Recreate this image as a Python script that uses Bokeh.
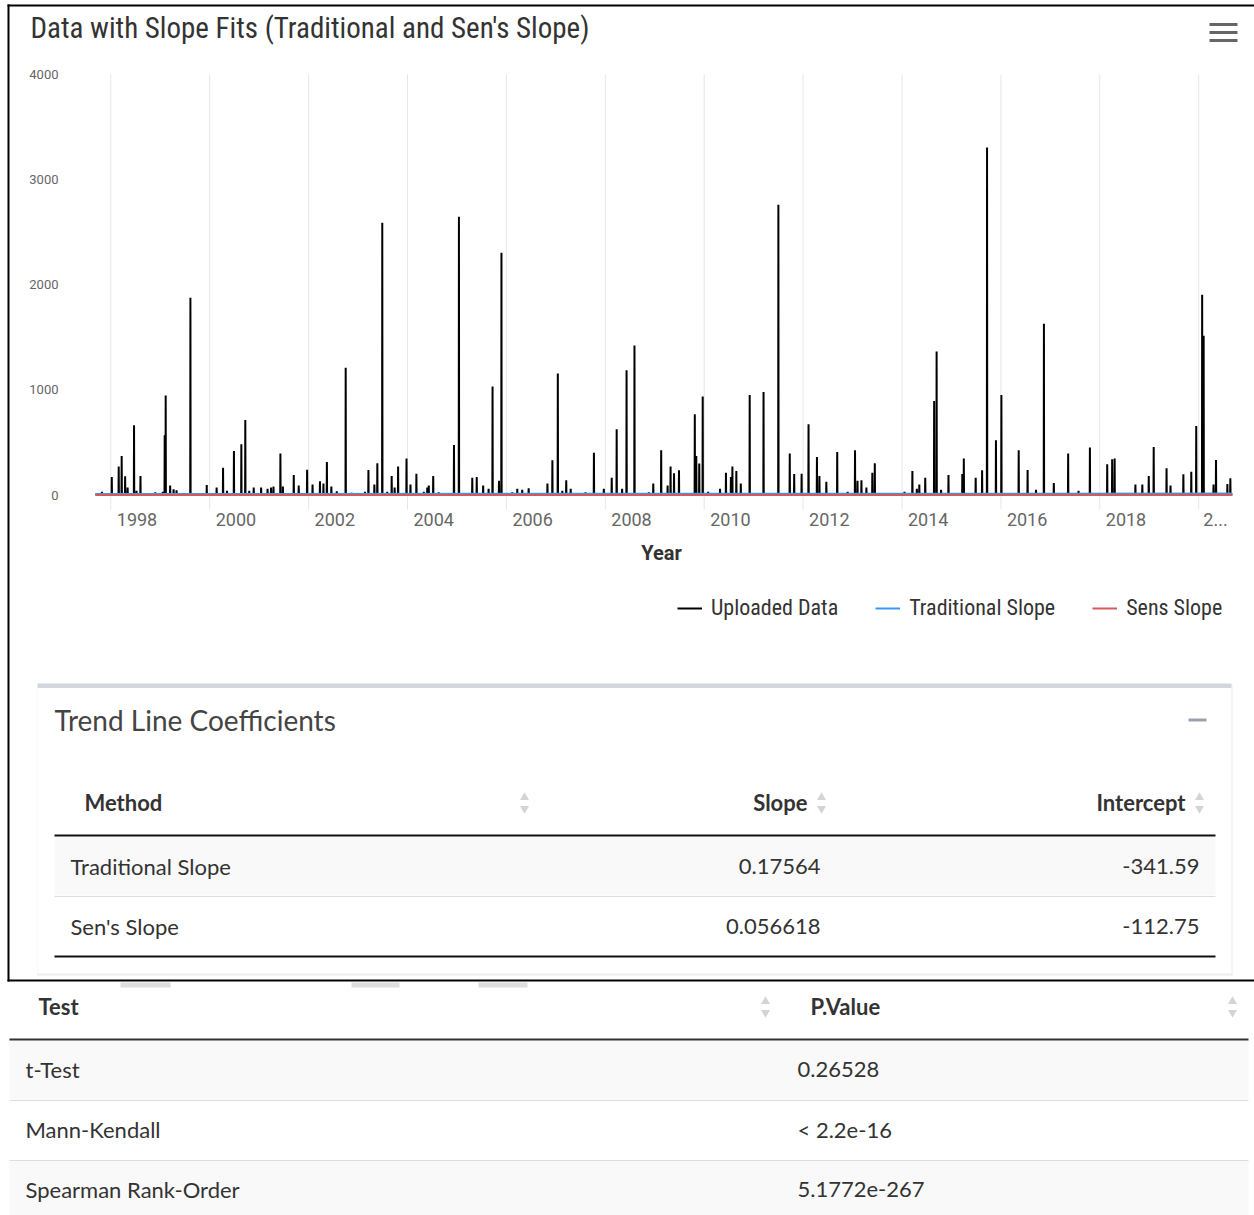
from bokeh.plotting import figure
from bokeh.models import (Range1d, FixedTicker, LinearAxis, Legend, LegendItem)
from bokeh.core.properties import value
from bokeh.embed import file_html
from bokeh.resources import INLINE

# ---------------------------------------------------------------------------
# Uploaded daily record: flow events (decimal year, value); between events the
# record sits at its base flow.
# ---------------------------------------------------------------------------
event_year = [
    1997.82, 1998.02, 1998.16, 1998.22, 1998.29, 1998.34, 1998.47, 1998.52, 1998.60, 1998.90,
    1999.05, 1999.09, 1999.11, 1999.20, 1999.27, 1999.33, 1999.61, 1999.94, 2000.14, 2000.27,
    2000.35, 2000.49, 2000.64, 2000.72, 2000.80, 2000.89, 2001.04, 2001.17, 2001.24, 2001.29,
    2001.43, 2001.48, 2001.70, 2001.80, 2001.97, 2002.08, 2002.23, 2002.30, 2002.37, 2002.46,
    2002.57, 2002.75, 2002.87, 2003.14, 2003.21, 2003.33, 2003.39, 2003.49, 2003.59, 2003.68,
    2003.74, 2003.81, 2003.98, 2004.06, 2004.18, 2004.33, 2004.40, 2004.43, 2004.52, 2004.63,
    2004.94, 2005.04, 2005.31, 2005.40, 2005.53, 2005.64, 2005.72, 2005.85, 2005.90, 2006.12,
    2006.22, 2006.32, 2006.45, 2006.83, 2006.93, 2007.04, 2007.13, 2007.21, 2007.30, 2007.60,
    2007.77, 2007.97, 2008.13, 2008.23, 2008.34, 2008.43, 2008.59, 2008.88, 2008.97, 2009.13,
    2009.26, 2009.32, 2009.39, 2009.49, 2009.81, 2009.84, 2009.90, 2009.97, 2010.08, 2010.32,
    2010.44, 2010.54, 2010.57, 2010.65, 2010.74, 2010.92, 2011.20, 2011.50, 2011.73, 2011.82,
    2011.97, 2012.11, 2012.28, 2012.33, 2012.47, 2012.69, 2012.90, 2013.05, 2013.10, 2013.18,
    2013.28, 2013.40, 2013.45, 2014.05, 2014.21, 2014.30, 2014.35, 2014.47, 2014.65, 2014.70,
    2014.79, 2014.94, 2015.22, 2015.25, 2015.49, 2015.62, 2015.72, 2015.90, 2016.01, 2016.36,
    2016.54, 2016.71, 2016.87, 2017.07, 2017.36, 2017.57, 2017.80, 2018.15, 2018.25, 2018.30,
    2018.72, 2018.86, 2018.99, 2019.09, 2019.35, 2019.43, 2019.69, 2019.85, 2019.95, 2020.07,
    2020.10, 2020.30, 2020.35, 2020.58, 2020.64,
]
event_flow = [
    30, 171, 270, 371, 178, 70, 664, 40, 181, 25,
    30, 568, 946, 90, 55, 45, 1876, 95, 70, 260,
    40, 419, 483, 714, 40, 70, 70, 60, 70, 80,
    394, 80, 190, 90, 241, 100, 130, 110, 314, 80,
    35, 1210, 20, 30, 238, 100, 302, 2590, 30, 181,
    70, 270, 346, 100, 203, 30, 70, 90, 181, 25,
    476, 2648, 165, 170, 90, 60, 1031, 135, 2305, 25,
    60, 50, 65, 110, 330, 1156, 40, 140, 60, 25,
    403, 60, 165, 625, 60, 1187, 1422, 25, 110, 425,
    90, 270, 206, 235, 768, 371, 300, 936, 30, 60,
    212, 170, 270, 228, 110, 952, 981, 2762, 394, 200,
    203, 673, 362, 180, 127, 410, 30, 425, 135, 140,
    70, 212, 302, 30, 228, 60, 100, 165, 895, 1365,
    50, 190, 200, 346, 165, 235, 3305, 521, 952, 425,
    238, 50, 1628, 115, 394, 40, 451, 292, 340, 346,
    100, 100, 180, 457, 254, 90, 197, 222, 657, 1905,
    1514, 100, 333, 105, 159,
]
record_start = 1997.69
record_end = 2020.68
base_flow = 5.0

# Trend line coefficients (value = slope * year + intercept)
methods = ["Traditional Slope", "Sen's Slope"]
slopes = [0.17564, 0.056618]
intercepts = [-341.59, -112.75]
slope_text = ["0.17564", "0.056618"]
intercept_text = ["-341.59", "-112.75"]

# Significance tests
tests = ["t-Test", "Mann-Kendall", "Spearman Rank-Order"]
p_values = ["0.26528", "< 2.2e-16", "5.1772e-267"]

year_grid = [1998, 2000, 2002, 2004, 2006, 2008, 2010, 2012, 2014, 2016, 2018, 2020]
year_labels = ["1998", "2000", "2002", "2004", "2006", "2008", "2010", "2012",
               "2014", "2016", "2018", "2..."]
flow_ticks = [0, 1000, 2000, 3000, 4000]

# ---------------------------------------------------------------------------
# Page: one canvas in page pixels (y downward); the chart uses its own year /
# flow scales mapped onto the chart area.
# ---------------------------------------------------------------------------
PAGE_W, PAGE_H = 1254, 1215
FL, FR, FT, FB = 80, 1242, 74, 495            # chart area edges on the page
PX_PER_YEAR = 49.45
YEAR_AT_0 = 1998 - 110.3 / PX_PER_YEAR
PX_PER_UNIT = 0.10512
ZERO_PX = 494.5
CHART_FONT = "'Roboto Condensed', 'Liberation Sans Narrow', 'DejaVu Sans Condensed', Roboto"

def year_at(px):
    return YEAR_AT_0 + px / PX_PER_YEAR

def flow_at(py):
    return (ZERO_PX - py) / PX_PER_UNIT

p = figure(width=PAGE_W, height=PAGE_H, output_backend="svg", toolbar_location=None,
           x_range=Range1d(0, PAGE_W), y_range=Range1d(PAGE_H, 0),
           x_axis_type=None, y_axis_type=None, min_border=0)
p.title.visible = False
p.outline_line_color = None
p.background_fill_color = "white"
p.border_fill_color = "white"
p.extra_x_ranges = {"yr": Range1d(year_at(0), year_at(PAGE_W))}
p.extra_y_ranges = {"val": Range1d(flow_at(PAGE_H), flow_at(0))}
C = dict(x_range_name="yr", y_range_name="val")

# ----- chart ---------------------------------------------------------------
p.text(x=[30], y=[27], text=["Data with Slope Fits (Traditional and Sen's Slope)"],
       text_font=value(CHART_FONT), text_font_size="29px", text_color="#333333",
       text_baseline="middle")
p.quad(left=[1209] * 3, right=[1237] * 3, top=[22.4, 30.4, 38.4], bottom=[25.6, 33.6, 41.6],
       fill_color="#666666", line_color=None)

# vertical grid lines every second year
p.segment(x0=year_grid, x1=year_grid, y0=[flow_at(FT)] * len(year_grid),
          y1=[flow_at(FB + 14)] * len(year_grid), line_color="#e6e6e6", line_width=1, **C)

year_left, year_right = year_at(FL), year_at(FR)
yax = LinearAxis(ticker=FixedTicker(ticks=flow_ticks), fixed_location=year_left,
                 bounds=(0, 4000), axis_line_color=None,
                 major_tick_line_color=None, minor_tick_line_color=None,
                 major_tick_out=0, major_tick_in=0,
                 major_label_text_font="Roboto", major_label_text_font_size="13px",
                 major_label_text_color="#666666", major_label_standoff=22, **C)
p.add_layout(yax, "left")

label_pos = [round(min(y + 0.53, year_right - 0.55), 2) for y in year_grid]
xax = LinearAxis(ticker=FixedTicker(ticks=label_pos), fixed_location=flow_at(FB),
                 bounds=(year_left, year_right),
                 major_label_overrides=dict(zip(label_pos, year_labels)),
                 axis_line_color=None, major_tick_line_color=None, minor_tick_line_color=None,
                 major_tick_out=0, major_tick_in=0,
                 major_label_text_font="Roboto", major_label_text_font_size="18px",
                 major_label_text_color="#666666", major_label_standoff=17,
                 axis_label="Year", axis_label_text_font="Roboto",
                 axis_label_text_font_size="20px", axis_label_text_font_style="bold",
                 axis_label_text_color="#333333", axis_label_standoff=12, **C)
p.add_layout(xax, "below")

# record drawn as a continuous line with narrow event peaks
half_w = 0.004
xs, ys = [record_start], [base_flow]
for t, v in zip(event_year, event_flow):
    xs += [t - half_w, t, t + half_w]
    ys += [base_flow, v, base_flow]
xs.append(record_end)
ys.append(base_flow)
r_data = p.line(xs, ys, line_color="#000000", line_width=2, **C)

trend_x = [record_start, record_end]
r_trad = p.line(trend_x, [slopes[0] * t + intercepts[0] for t in trend_x],
                line_color="#3d98f2", line_width=2, **C)
r_sen = p.line(trend_x, [slopes[1] * t + intercepts[1] for t in trend_x],
               line_color="#d45a5a", line_width=2, **C)

legend = Legend(items=[LegendItem(label="Uploaded Data", renderers=[r_data]),
                       LegendItem(label="Traditional Slope", renderers=[r_trad]),
                       LegendItem(label="Sens Slope", renderers=[r_sen])],
                orientation="horizontal", location=(677, PAGE_H - 596 - 24),
                padding=0, margin=0, spacing=37, glyph_width=25, glyph_height=24,
                label_height=24, label_standoff=9,
                label_text_font=CHART_FONT, label_text_font_size="22px",
                label_text_color="#333333",
                border_line_color=None, background_fill_alpha=0)
p.add_layout(legend, "center")

# ----- section frame -------------------------------------------------------
p.segment(x0=[8, 7, 7], y0=[4, 5, 980], x1=[8, PAGE_W, PAGE_W], y1=[981, 5, 980],
          line_color="black", line_width=2)
p.quad(left=[120, 351, 478], right=[170, 399, 527], top=[982] * 3, bottom=[987] * 3,
       fill_color="#dddddd", line_color=None)

# ----- coefficient box -----------------------------------------------------
BODY_FONT = value("Lato")
BODY_SIZE = "22px"
TXT = "#333333"
ARROW = "#d4d4d4"

p.quad(left=[37], right=[1232], top=[685], bottom=[975], fill_color="#ececec", line_color=None)
p.quad(left=[37], right=[1231], top=[683], bottom=[973], fill_color="white", line_color=None)
p.quad(left=[37], right=[1231], top=[683], bottom=[687.5], fill_color="#d2d6de", line_color=None)
p.text(x=[54], y=[719], text=["Trend Line Coefficients"], text_font=BODY_FONT,
       text_font_size="28px", text_color="#444444", text_baseline="middle")
p.quad(left=[1188], right=[1206], top=[718], bottom=[721], fill_color="#97a0b3", line_color=None)

H1_Y, ROW_H = 802, 60
row_y = [H1_Y + 64 + i * ROW_H for i in range(len(methods))]
p.quad(left=[54], right=[1215], top=[836], bottom=[895], fill_color="#f9f9f9", line_color=None)
p.text(x=[84], y=[H1_Y], text=["Method"], text_font=BODY_FONT, text_font_size=BODY_SIZE,
       text_font_style="bold", text_color=TXT, text_baseline="middle")
p.text(x=[807, 1185], y=[H1_Y, H1_Y], text=["Slope", "Intercept"], text_font=BODY_FONT,
       text_font_size=BODY_SIZE, text_font_style="bold", text_color=TXT,
       text_baseline="middle", text_align="right")
p.scatter(x=[524, 821, 1199], y=[H1_Y - 5] * 3, marker="triangle", size=9,
          fill_color=ARROW, line_color=None)
p.scatter(x=[524, 821, 1199], y=[H1_Y + 6] * 3, marker="inverted_triangle", size=9,
          fill_color=ARROW, line_color=None)
p.segment(x0=[54, 54], y0=[835, 956], x1=[1215, 1215], y1=[835, 956],
          line_color="#111111", line_width=2)
p.segment(x0=[54], y0=[896], x1=[1215], y1=[896], line_color="#dddddd", line_width=1)
p.text(x=[70] * len(methods), y=row_y, text=methods, text_font=BODY_FONT,
       text_font_size=BODY_SIZE, text_color=TXT, text_baseline="middle")
p.text(x=[820] * len(slope_text), y=row_y, text=slope_text, text_font=BODY_FONT,
       text_font_size=BODY_SIZE, text_color=TXT, text_baseline="middle", text_align="right")
p.text(x=[1199] * len(intercept_text), y=row_y, text=intercept_text, text_font=BODY_FONT,
       text_font_size=BODY_SIZE, text_color=TXT, text_baseline="middle", text_align="right")

# ----- test table ----------------------------------------------------------
H2_Y = 1006
row2_y = [1069 + i * ROW_H for i in range(len(tests))]
stripe = [i for i in range(len(tests)) if i % 2 == 0]
p.quad(left=[9] * len(stripe), right=[1248] * len(stripe),
       top=[1040 + i * ROW_H for i in stripe], bottom=[1099 + i * ROW_H for i in stripe],
       fill_color="#f9f9f9", line_color=None)
p.segment(x0=[9, 9], y0=[1100, 1160], x1=[1248, 1248], y1=[1100, 1160],
          line_color="#dddddd", line_width=1)
p.segment(x0=[9], y0=[1039], x1=[1248], y1=[1039], line_color="#333333", line_width=2)
p.text(x=[38, 810], y=[H2_Y, H2_Y], text=["Test", "P.Value"], text_font=BODY_FONT,
       text_font_size=BODY_SIZE, text_font_style="bold", text_color=TXT, text_baseline="middle")
p.scatter(x=[765, 1232], y=[H2_Y - 5] * 2, marker="triangle", size=9,
          fill_color=ARROW, line_color=None)
p.scatter(x=[765, 1232], y=[H2_Y + 6] * 2, marker="inverted_triangle", size=9,
          fill_color=ARROW, line_color=None)
p.text(x=[25] * len(tests), y=row2_y, text=tests, text_font=BODY_FONT,
       text_font_size=BODY_SIZE, text_color=TXT, text_baseline="middle")
p.text(x=[797] * len(p_values), y=row2_y, text=p_values, text_font=BODY_FONT,
       text_font_size=BODY_SIZE, text_color=TXT, text_baseline="middle")

open("out.html", "w").write(file_html(p, INLINE))
